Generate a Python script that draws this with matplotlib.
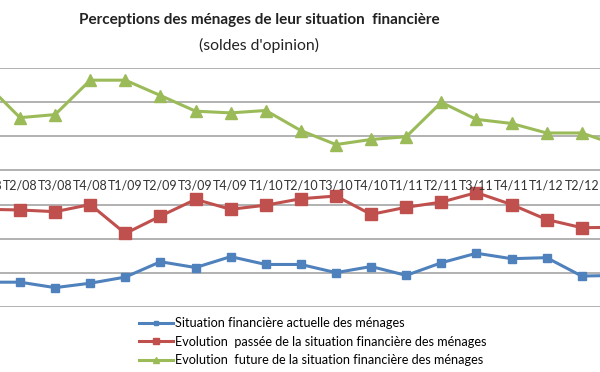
import matplotlib
matplotlib.use("Agg")
import matplotlib.pyplot as plt

# trimestres
quarters = ["T1/08", "T2/08", "T3/08", "T4/08", "T1/09", "T2/09", "T3/09", "T4/09",
            "T1/10", "T2/10", "T3/10", "T4/10", "T1/11", "T2/11", "T3/11", "T4/11",
            "T1/12", "T2/12", "T3/12"]

actuelle = [-32.8, -32.8, -34.4, -33.1, -31.3, -26.8, -28.5, -25.3, -27.6, -27.6,
            -30.0, -28.2, -30.8, -27.1, -24.3, -25.9, -25.6, -31.0, -30.8]
passee = [-11.4, -11.6, -12.1, -10.0, -18.5, -13.4, -8.5, -11.4, -10.2, -8.3,
          -7.5, -12.9, -10.8, -9.3, -6.5, -10.0, -14.4, -16.8, -16.7]
future = [25.8, 15.5, 16.4, 26.5, 26.5, 22.0, 17.4, 16.9, 17.6, 11.7,
          7.6, 9.1, 9.9, 20.0, 15.0, 13.8, 11.0, 11.0, 7.5]

labels = ["Situation financière actuelle des ménages",
          "Evolution  passée de la situation financière des ménages",
          "Evolution  future de la situation financière des ménages"]

plt.rcParams['font.family'] = ['Lato', 'DejaVu Sans']

fig = plt.figure(figsize=(6, 3.72), dpi=100)
fig.patch.set_facecolor('white')
ax = fig.add_axes([0, 0.1755, 1, 0.641])

x = list(range(len(quarters)))
ax.plot(x, actuelle, color='#4F81BD', lw=2.2, marker='s', ms=6, label=labels[0])
ax.plot(x, passee, color='#C0504D', lw=2.2, marker='s', ms=8, label=labels[1])
ax.plot(x, future, color='#9BBB59', lw=2.2, marker='^', ms=8, label=labels[2])

# the picture is cropped: first quarter sits just left of the edge
ax.set_xlim(0.43, 17.52)
ax.set_ylim(-40, 30)
ax.set_yticks(range(-40, 31, 10))
ax.yaxis.grid(True, color='#ababab', lw=1.3)
ax.set_axisbelow(True)
ax.set_xticks([])
ax.set_yticklabels([])
ax.tick_params(left=False)
for s in ax.spines.values():
    s.set_visible(False)

for i, q in enumerate(quarters[:-1]):
    ax.text(i, -4.4, q, ha='center', va='center', fontsize=9, color='#333333')

fig.text(0.433, 0.945, "Perceptions des ménages de leur situation  financière",
         ha='center', va='center', fontsize=11, fontweight='bold', color='#222222')
fig.text(0.432, 0.878, "(soldes d'opinion)", ha='center', va='center',
         fontsize=11.3, color='#222222')

fig.legend(loc='upper left', bbox_to_anchor=(0.232, 0.147), frameon=False,
           fontsize=9.1, handlelength=2.7, handletextpad=0.15, labelspacing=0.5,
           borderaxespad=0, borderpad=0, markerscale=0.6)

fig.savefig("out.png", dpi=100, facecolor='white')
